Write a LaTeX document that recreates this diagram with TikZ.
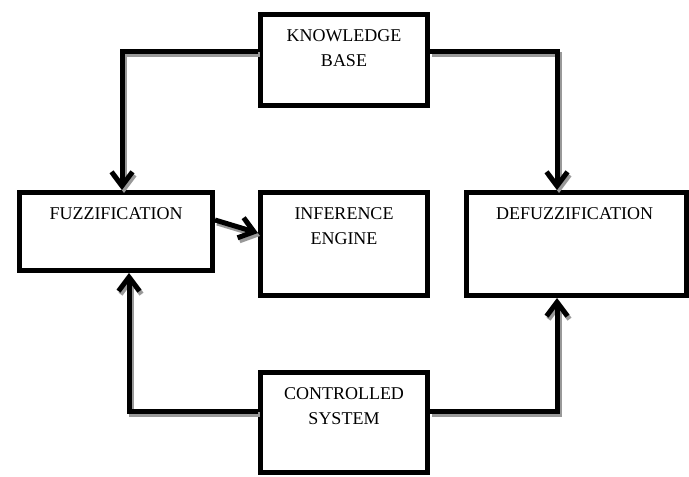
\documentclass[tikz,border=0pt]{standalone}
\usepackage{fontspec}
\setmainfont{Liberation Serif}
\usetikzlibrary{arrows.meta,calc}
\begin{document}
\begin{tikzpicture}[x=1pt,y=1pt,
  box/.style={draw=black,line width=5pt,rectangle,inner sep=0pt},
  txt/.style={font=\fontsize{18}{25}\selectfont,align=center,inner sep=0pt,anchor=north},
  conn/.style={draw=black,line width=5pt,-{Straight Barb[length=14pt,width=21pt]}},
  connsh/.style={draw=black!40,line width=5pt,-{Straight Barb[length=14pt,width=21pt]},transform canvas={shift={(2pt,-3pt)}}}
]
\useasboundingbox (0,0) rectangle (689,477);
% boxes (coordinates are line centres)
\node[box,minimum width=167pt,minimum height=91pt] (kb) at (344,417) {};
\node[box,minimum width=193pt,minimum height=78pt] (fuzz) at (116,245.5) {};
\node[box,minimum width=167pt,minimum height=103pt] (inf) at (344,233) {};
\node[box,minimum width=220pt,minimum height=103pt] (dfz) at (576.5,233) {};
\node[box,minimum width=167pt,minimum height=100pt] (ctl) at (344,54.5) {};
% texts
\node[txt] (kbt) at ([yshift=-17.5pt]kb.north) {KNOWLEDGE\\BASE};
\node[txt] (fuzzt) at ([yshift=-17.5pt]fuzz.north) {FUZZIFICATION};
\node[txt] (inft) at ([yshift=-17.5pt]inf.north) {INFERENCE\\ENGINE};
\node[txt] (dfzt) at ([yshift=-17.5pt,xshift=-2pt]dfz.north) {DEFUZZIFICATION};
\node[txt] (ctlt) at ([yshift=-17.5pt]ctl.north) {CONTROLLED\\SYSTEM};
% connector shadows
\draw[connsh] ([yshift=8pt]kb.west) -| ([xshift=6pt]fuzz.north);
\draw[connsh] ([yshift=8pt]kb.east) -| ([xshift=-19.5pt]dfz.north);
\draw[connsh] ([yshift=10.5pt]ctl.west) -| ([xshift=13pt]fuzz.south);
\draw[connsh] ([yshift=10.5pt]ctl.east) -| ([xshift=-19.5pt]dfz.south);
\draw[connsh] ([yshift=11.5pt]fuzz.east) -- ([yshift=11pt]inf.west);
% connectors
\draw[conn] ([yshift=8pt]kb.west) -| ([xshift=6pt]fuzz.north);
\draw[conn] ([yshift=8pt]kb.east) -| ([xshift=-19.5pt]dfz.north);
\draw[conn] ([yshift=10.5pt]ctl.west) -| ([xshift=13pt]fuzz.south);
\draw[conn] ([yshift=10.5pt]ctl.east) -| ([xshift=-19.5pt]dfz.south);
\draw[conn] ([yshift=11.5pt]fuzz.east) -- ([yshift=11pt]inf.west);
\end{tikzpicture}
\end{document}
